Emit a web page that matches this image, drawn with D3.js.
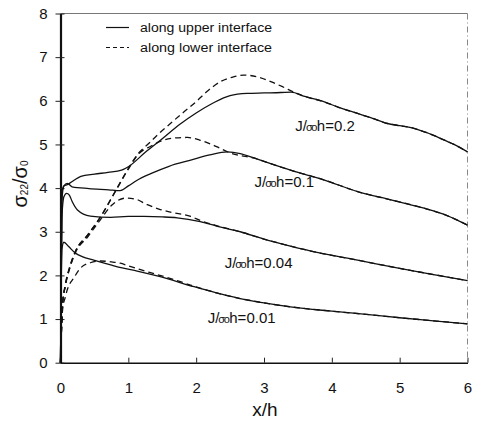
<!DOCTYPE html>
<html>
<head>
<meta charset="utf-8">
<script src="https://cdn.jsdelivr.net/npm/d3@7"></script>
<style>
  html, body { margin: 0; padding: 0; background: #fff; }
  svg { display: block; font-family: "Liberation Sans", Arial, sans-serif; }
</style>
</head>
<body>
<svg id="chart" width="479" height="424"></svg>
<script>
// Normal stress sigma22/sigma0 along the interfaces vs. distance x/h
const xTicks = [0, 1, 2, 3, 4, 5, 6];
const yTicks = [0, 1, 2, 3, 4, 5, 6, 7, 8];

// J/(sigma0 h) = 0.2
const upper02 = [[0,0],[0.02,3.9],[0.05,4.05],[0.1,4.08],[0.2,4.18],[0.3,4.27],[0.5,4.32],[0.7,4.36],[0.9,4.41],[1.0,4.49],[1.25,4.82],[1.5,5.13],[1.75,5.45],[2.0,5.72],[2.25,5.95],[2.5,6.12],[2.75,6.17],[3.0,6.18],[3.25,6.19],[3.4,6.2],[3.6,6.1],[3.88,5.98],[4.1,5.85],[4.38,5.71],[4.6,5.6],[4.82,5.48],[5.0,5.43],[5.21,5.37],[5.4,5.27],[5.6,5.14],[5.8,5.0],[6.0,4.83]];
const lower02 = [[0,0],[0.03,1.3],[0.07,1.75],[0.14,2.2],[0.22,2.55],[0.4,2.92],[0.59,3.34],[0.79,3.88],[0.98,4.4],[1.15,4.8],[1.3,5.02],[1.45,5.25],[1.62,5.48],[1.8,5.72],[2.0,5.98],[2.15,6.2],[2.36,6.44],[2.55,6.55],[2.7,6.59],[2.9,6.55],[3.1,6.44],[3.29,6.31],[3.44,6.2],[3.6,6.1],[3.88,5.98],[4.1,5.85],[4.38,5.71],[4.6,5.6],[4.82,5.48],[5.0,5.43],[5.21,5.37],[5.4,5.27],[5.6,5.14],[5.8,5.0],[6.0,4.83]];

// J/(sigma0 h) = 0.1
const upper01 = [[0,0],[0.02,3.7],[0.05,4.05],[0.1,4.11],[0.17,4.03],[0.42,3.99],[0.71,3.96],[0.88,3.94],[1.0,4.05],[1.13,4.18],[1.33,4.33],[1.6,4.5],[1.92,4.64],[2.2,4.76],[2.46,4.83],[2.65,4.79],[2.85,4.69],[3.0,4.61],[3.39,4.41],[3.88,4.19],[4.38,3.92],[4.87,3.73],[5.36,3.54],[5.7,3.37],[6.0,3.15]];
const lower01 = [[0,0],[0.03,1.35],[0.07,1.78],[0.14,2.22],[0.22,2.55],[0.4,2.93],[0.59,3.34],[0.79,3.87],[0.98,4.38],[1.15,4.78],[1.33,4.96],[1.52,5.1],[1.7,5.15],[1.87,5.16],[2.05,5.1],[2.3,4.95],[2.51,4.8],[2.7,4.73],[2.85,4.69],[3.0,4.61],[3.39,4.41],[3.88,4.19],[4.38,3.92],[4.87,3.73],[5.36,3.54],[5.7,3.37],[6.0,3.15]];

// J/(sigma0 h) = 0.04
const upper004 = [[0,0],[0.02,3.3],[0.05,3.8],[0.09,3.88],[0.13,3.84],[0.17,3.7],[0.25,3.5],[0.44,3.36],[0.74,3.33],[1.0,3.35],[1.23,3.35],[1.5,3.34],[1.72,3.32],[2.06,3.23],[2.3,3.13],[2.65,3.0],[3.0,2.83],[3.39,2.67],[3.8,2.52],[4.38,2.35],[5.0,2.16],[5.5,2.02],[6.0,1.88]];
const lower004 = [[0,0],[0.03,1.35],[0.07,1.75],[0.14,2.18],[0.22,2.52],[0.4,2.88],[0.59,3.28],[0.75,3.6],[0.85,3.72],[0.96,3.77],[1.1,3.75],[1.28,3.62],[1.45,3.52],[1.62,3.45],[1.92,3.35],[2.06,3.26],[2.3,3.14],[2.65,3.0],[3.0,2.83],[3.39,2.67],[3.8,2.52],[4.38,2.35],[5.0,2.16],[5.5,2.02],[6.0,1.88]];

// J/(sigma0 h) = 0.01
const upper001 = [[0,0],[0.02,2.6],[0.05,2.76],[0.12,2.66],[0.22,2.51],[0.32,2.43],[0.49,2.35],[0.74,2.24],[0.91,2.17],[1.13,2.1],[1.47,1.97],[1.97,1.74],[2.3,1.6],[2.65,1.47],[3.0,1.37],[3.39,1.28],[4.0,1.18],[4.62,1.09],[5.0,1.03],[5.5,0.96],[6.0,0.89]];
const lower001 = [[0,0],[0.03,1.2],[0.07,1.5],[0.1,1.67],[0.2,1.95],[0.29,2.16],[0.44,2.29],[0.59,2.33],[0.75,2.31],[0.88,2.28],[1.0,2.22],[1.18,2.13],[1.4,2.03],[1.7,1.89],[1.97,1.75],[2.3,1.6],[2.65,1.47],[3.0,1.37],[3.39,1.28],[4.0,1.18],[4.62,1.09],[5.0,1.03],[5.5,0.96],[6.0,0.89]];

const seriesUpper = [upper02, upper01, upper004, upper001];
const seriesLower = [lower02, lower01, lower004, lower001];

// curve labels: J/σ0h value and the data point it sits next to
const labelValues = ["0.2", "0.1", "0.04", "0.01"];
const labelAnchors = [[3.46, 5.31], [2.86, 4.03], [2.42, 2.18], [2.17, 0.91]];

const legendLabels = ["along upper interface", "along lower interface"];

const svg = d3.select("#chart");
const x = d3.scaleLinear().domain([0, 6]).range([60.5, 467.5]);
const y = d3.scaleLinear().domain([0, 8]).range([362.7, 13.5]);

// frame: grey top edge and dotted right edge
svg.append("line").attr("x1", x(0)).attr("x2", x(6)).attr("y1", y(8)).attr("y2", y(8))
  .attr("stroke", "#777").attr("stroke-width", 1.2);
svg.append("line").attr("x1", x(6)).attr("x2", x(6)).attr("y1", y(8)).attr("y2", y(0))
  .attr("stroke", "#888").attr("stroke-width", 1).attr("stroke-dasharray", "6,3,1,3");

// x axis with inward ticks
const xAxis = svg.append("g").attr("transform", `translate(0,${y(0)})`)
  .call(d3.axisBottom(x).tickValues(xTicks).tickFormat(d3.format("d")).tickSizeInner(-5).tickSizeOuter(0));
xAxis.select(".domain").attr("stroke", "#111").attr("stroke-width", 1.6);
xAxis.selectAll(".tick line").attr("stroke", "#222");
xAxis.selectAll(".tick text").attr("font-size", 15).attr("fill", "#111")
  .attr("font-family", "Liberation Sans, Arial, sans-serif").attr("dy", "1.8em");

// y axis
const yAxis = svg.append("g").attr("transform", `translate(${x(0)},0)`)
  .call(d3.axisLeft(y).tickValues(yTicks).tickFormat(d3.format("d")).tickSizeInner(5).tickSizeOuter(0).tickPadding(8));
yAxis.select(".domain").attr("stroke", "#111").attr("stroke-width", 2.2);
yAxis.selectAll(".tick line").attr("stroke", "#222").attr("x2", 4).attr("x1", -5);
yAxis.selectAll(".tick text").attr("font-size", 15).attr("fill", "#111")
  .attr("font-family", "Liberation Sans, Arial, sans-serif");

// axis titles
svg.append("text").attr("x", 265).attr("y", 416).attr("text-anchor", "middle")
  .attr("font-size", 19).attr("fill", "#111").text("x/h");

const yTitle = svg.append("text")
  .attr("transform", "translate(27,184) rotate(-90)")
  .attr("text-anchor", "middle").attr("font-size", 20).attr("fill", "#111");
yTitle.append("tspan").text("σ");
yTitle.append("tspan").attr("font-size", 10).attr("dy", 1).text("22");
yTitle.append("tspan").attr("dy", -1).text("/σ");
yTitle.append("tspan").attr("font-size", 10).attr("dy", 1).text("0");

// curves
const line = d3.line().x(d => x(d[0])).y(d => y(d[1])).curve(d3.curveMonotoneX);
const curves = svg.append("g").attr("fill", "none").attr("stroke", "#111")
  .attr("stroke-width", 1.3).attr("stroke-linejoin", "round");
curves.selectAll("path.upper").data(seriesUpper).join("path")
  .attr("class", "upper").attr("d", line);
curves.selectAll("path.lower").data(seriesLower).join("path")
  .attr("class", "lower").attr("d", line).attr("stroke-dasharray", "6,4");

// curve labels
labelValues.forEach((v, i) => {
  const t = svg.append("text")
    .attr("x", x(labelAnchors[i][0])).attr("y", y(labelAnchors[i][1]))
    .attr("font-size", 15).attr("fill", "#111");
  t.append("tspan").text("J/");
  t.append("tspan").attr("font-size", 11).attr("dx", -1).attr("letter-spacing", -1.5).text("σo");
  t.append("tspan").attr("dx", 1).text("h=" + v);
});

// legend
const legend = svg.append("g");
legendLabels.forEach((lab, i) => {
  const ly = 27.5 + i * 20;
  legend.append("line").attr("x1", 106).attr("x2", 129).attr("y1", ly).attr("y2", ly)
    .attr("stroke", "#111").attr("stroke-width", 1.2)
    .attr("stroke-dasharray", i === 1 ? "4,3" : null);
  legend.append("text").attr("x", 140).attr("y", ly + 4)
    .attr("font-size", 12).attr("fill", "#111")
    .attr("textLength", 132).attr("lengthAdjust", "spacingAndGlyphs").text(lab);
});
</script>
</body>
</html>
